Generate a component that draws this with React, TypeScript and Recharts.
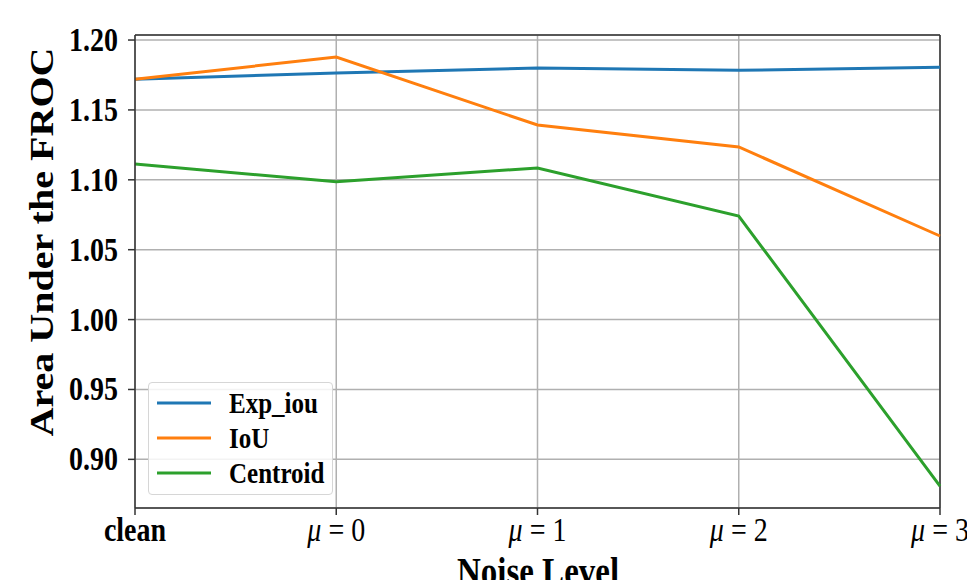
import React from "react"
import {
  LineChart,
  Line,
  XAxis,
  YAxis,
  CartesianGrid,
  Legend,
  Label,
  ReferenceLine,
} from "recharts"

const categories = ["clean", "μ=0", "μ=1", "μ=2", "μ=3"]
const expIou = [1.172, 1.1764, 1.18, 1.1783, 1.1805]
const iou = [1.172, 1.1878, 1.1392, 1.1235, 1.0598]
const centroid = [1.1113, 1.0986, 1.1085, 1.0741, 0.8809]
const yTicks = [0.9, 0.95, 1.0, 1.05, 1.1, 1.15, 1.2]
const yDomain = [0.8652, 1.2036]

const series = [
  { key: "Exp_iou", color: "#1f77b4" },
  { key: "IoU", color: "#ff7f0e" },
  { key: "Centroid", color: "#2ca02c" },
]

const data = categories.map((level, i) => ({
  level,
  Exp_iou: expIou[i],
  IoU: iou[i],
  Centroid: centroid[i],
}))

const FONT = '"Liberation Serif", "Times New Roman", "DejaVu Serif", serif'
const AXIS = "#333"

// the reference is a bit stretched vertically, so text is scaled 1.2 in y
function XTick(props: any) {
  const { x, y, payload } = props
  const v: string = payload.value
  const t = `translate(${x},${y + 24}) scale(1,1.2)`
  if (v.startsWith("μ")) {
    return (
      <text transform={t} textAnchor="middle" fontFamily={FONT} fontSize={28} fill="#000">
        <tspan fontStyle="italic">μ</tspan>
        <tspan> = {v.slice(2)}</tspan>
      </text>
    )
  }
  return (
    <text transform={t} textAnchor="middle" fontFamily={FONT} fontSize={28} fontWeight="bold" fill="#000">
      {v}
    </text>
  )
}

function YTick(props: any) {
  const { x, y, payload } = props
  return (
    <text
      transform={`translate(${x},${y + 11}) scale(1,1.2)`}
      textAnchor="end"
      fontFamily={FONT}
      fontSize={28}
      fontWeight="bold"
      fill="#000"
    >
      {Number(payload.value).toFixed(2)}
    </text>
  )
}

function LegendBox() {
  return (
    <div
      style={{
        width: 185,
        height: 113,
        boxSizing: "border-box",
        border: "1px solid #d6d6d6",
        borderRadius: 4,
        background: "rgba(255,255,255,0.85)",
        paddingTop: 2,
      }}
    >
      {series.map((s) => (
        <div key={s.key} style={{ display: "flex", alignItems: "center", height: 35 }}>
          <svg width={80} height={10} style={{ marginLeft: 7, flexShrink: 0 }}>
            <line x1={1} y1={5} x2={55} y2={5} stroke={s.color} strokeWidth={3} />
          </svg>
          <span
            style={{
              fontFamily: FONT,
              fontWeight: "bold",
              fontSize: 25,
              marginLeft: -7,
              color: "#000",
              display: "inline-block",
              transform: "scaleY(1.2)",
            }}
          >
            {s.key}
          </span>
        </div>
      ))}
    </div>
  )
}

export default function App() {
  return (
    <div style={{ position: "absolute", left: 0, top: 0, width: 967, height: 580, background: "#fff", overflow: "hidden" }}>
      <LineChart
        width={967}
        height={580}
        data={data}
        margin={{ top: 35, right: 27, left: 0, bottom: 0 }}
      >
        <CartesianGrid stroke="#b0b0b0" strokeWidth={1.5} />
        <XAxis
          dataKey="level"
          height={72}
          tick={<XTick />}
          tickSize={7}
          tickLine={{ stroke: AXIS, strokeWidth: 1.5 }}
          axisLine={{ stroke: AXIS, strokeWidth: 1.5 }}
          interval={0}
        >
          <Label
            content={() => (
              <text
                transform="translate(538,585) scale(1,1.2)"
                textAnchor="middle"
                fontFamily={FONT}
                fontSize={33}
                fontWeight="bold"
                fill="#000"
              >
                Noise Level
              </text>
            )}
          />
        </XAxis>
        <YAxis
          width={135}
          domain={yDomain}
          ticks={yTicks}
          allowDataOverflow
          tick={<YTick />}
          tickSize={7}
          tickMargin={10}
          tickLine={{ stroke: AXIS, strokeWidth: 1.5 }}
          axisLine={{ stroke: AXIS, strokeWidth: 1.5 }}
        >
          <Label
            content={() => (
              <text
                x={42}
                y={242}
                transform="rotate(-90 42 242)"
                textAnchor="middle"
                dominantBaseline="central"
                fontFamily={FONT}
                fontSize={33}
                fontWeight="bold"
                fill="#000"
                textLength={389}
                lengthAdjust="spacingAndGlyphs"
              >
                Area Under the FROC
              </text>
            )}
          />
        </YAxis>
        <ReferenceLine y={yDomain[1]} stroke={AXIS} strokeWidth={1.5} ifOverflow="visible" />
        <ReferenceLine x={categories[categories.length - 1]} stroke={AXIS} strokeWidth={1.5} ifOverflow="visible" />
        {series.map((s) => (
          <Line
            key={s.key}
            type="linear"
            dataKey={s.key}
            stroke={s.color}
            strokeWidth={3}
            dot={false}
            isAnimationActive={false}
          />
        ))}
        <Legend
          content={<LegendBox />}
          wrapperStyle={{ left: 148, top: 382, width: 185, height: 0, bottom: "auto", overflow: "visible" }}
        />
      </LineChart>
    </div>
  )
}
